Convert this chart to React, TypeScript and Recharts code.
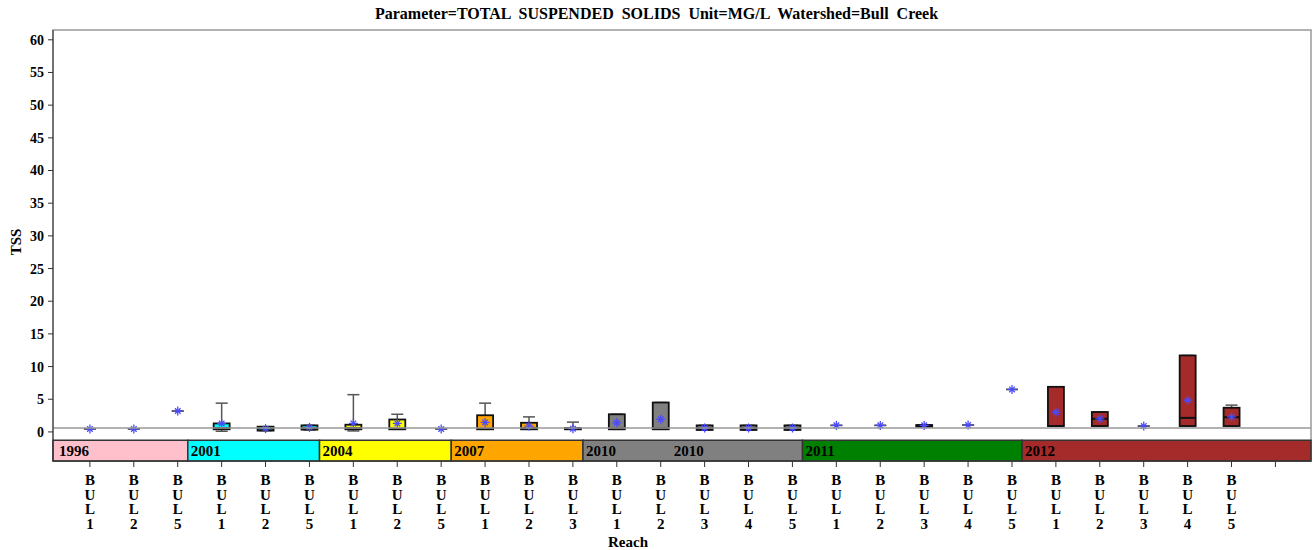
import React from 'react';
import { ComposedChart, Bar, XAxis, YAxis, ReferenceArea, ReferenceLine } from 'recharts';

// reach per box, in plotting order
const reaches = [
  'BUL1', 'BUL2', 'BUL5',
  'BUL1', 'BUL2', 'BUL5',
  'BUL1', 'BUL2', 'BUL5',
  'BUL1', 'BUL2', 'BUL3',
  'BUL1', 'BUL2', 'BUL3', 'BUL4', 'BUL5',
  'BUL1', 'BUL2', 'BUL3', 'BUL4', 'BUL5',
  'BUL1', 'BUL2', 'BUL3', 'BUL4', 'BUL5',
];
const years = [
  '1996', '1996', '1996',
  '2001', '2001', '2001',
  '2004', '2004', '2004',
  '2007', '2007', '2007',
  '2010', '2010', '2010', '2010', '2010',
  '2011', '2011', '2011', '2011', '2011',
  '2012', '2012', '2012', '2012', '2012',
];

// box statistics (mg/L)
const mins = [0.45, 0.45, 3.2, 0.1, 0.2, 0.3, 0.15, 0.4, 0.45, 0.4, 0.4, 0.4, 0.4, 0.4, 0.3, 0.3, 0.3, 1.0, 1.0, 0.8, 1.05, 6.5, 0.9, 0.9, 0.9, 0.9, 0.9];
const q1s = [0.45, 0.45, 3.2, 0.4, 0.2, 0.35, 0.4, 0.4, 0.45, 0.4, 0.4, 0.4, 0.4, 0.4, 0.3, 0.3, 0.3, 1.0, 1.0, 0.8, 1.05, 6.5, 0.9, 0.9, 0.9, 0.9, 0.9];
const medians = [0.45, 0.45, 3.2, 0.6, 0.5, 0.6, 0.6, 0.5, 0.45, 0.5, 0.6, 0.5, 0.6, 0.6, 0.6, 0.6, 0.6, 1.0, 1.0, 1.0, 1.05, 6.5, 0.9, 2.0, 0.9, 2.15, 2.25];
const q3s = [0.45, 0.45, 3.2, 1.3, 0.8, 1.0, 1.1, 1.9, 0.45, 2.55, 1.4, 0.6, 2.7, 4.5, 1.0, 1.0, 1.0, 1.0, 1.0, 1.05, 1.05, 6.5, 6.9, 3.05, 0.9, 11.7, 3.7];
const maxs = [0.45, 0.45, 3.2, 4.4, 0.8, 1.0, 5.7, 2.7, 0.45, 4.4, 2.3, 1.5, 2.7, 4.5, 1.0, 1.0, 1.0, 1.0, 1.0, 1.05, 1.05, 6.5, 6.9, 3.05, 0.9, 11.7, 4.1];
const means = [0.45, 0.45, 3.2, 1.3, 0.5, 0.7, 1.3, 1.3, 0.45, 1.45, 0.9, 0.5, 1.4, 1.95, 0.6, 0.6, 0.6, 1.0, 1.0, 1.0, 1.05, 6.5, 3.0, 2.0, 0.9, 4.85, 2.3];

// year blocks under the boxes
const blockYears = ['1996', '2001', '2004', '2007', '2010', '2011', '2012'];
const blockStarts = [0, 3, 6, 9, 12, 17, 22];
const blockColors = ['#ffc0cb', '#00ffff', '#ffff00', '#ffa500', '#808080', '#008000', '#a52a2a'];
const blockLabels = ['1996', '2001', '2004', '2007', '2010', '2010', '2011', '2012'];
const blockLabelStarts = [0, 3, 6, 9, 12, 14, 17, 22];

const yTicks = [0, 5, 10, 15, 20, 25, 30, 35, 40, 45, 50, 55, 60];
const refValue = 0.6;

const X_MIN = -0.84;
const X_MAX = 27.81;
const Y_MIN = -4.45;
const Y_MAX = 61.5;
const BAND_TOP = -1.27;
const EDGE = 0.77;

const xTicks = Array.from({ length: reaches.length + 1 }, (_, i) => i);

const data = reaches.map((r, i) => ({
  idx: i,
  reach: r,
  year: years[i],
  min: mins[i],
  q1: q1s[i],
  median: medians[i],
  q3: q3s[i],
  max: maxs[i],
  mean: means[i],
}));

const FONT = '"Liberation Serif", "DejaVu Serif", serif';

const BoxShape = (props: any) => {
  const { x, y, width, height, payload } = props;
  if (payload == null || height == null) return null;
  const k = height / (payload.max - Y_MIN);
  const py = (v: number) => y + (payload.max - v) * k;
  const cx = x + width / 2;
  const half = 8;
  const cap = 6;
  const fill = blockColors[blockYears.indexOf(payload.year)];
  const m = py(payload.mean);
  const hasBox = payload.q3 > payload.q1;
  return (
    <g>
      <line x1={cx} x2={cx} y1={py(payload.max)} y2={py(payload.q3)} stroke="#555" strokeWidth={1.5} />
      <line x1={cx} x2={cx} y1={py(payload.q1)} y2={py(payload.min)} stroke="#555" strokeWidth={1.5} />
      <line x1={cx - cap} x2={cx + cap} y1={py(payload.max)} y2={py(payload.max)} stroke="#555" strokeWidth={1.5} />
      <line x1={cx - cap} x2={cx + cap} y1={py(payload.min)} y2={py(payload.min)} stroke="#555" strokeWidth={1.5} />
      {hasBox && (
        <rect
          x={cx - half}
          y={py(payload.q3)}
          width={half * 2}
          height={py(payload.q1) - py(payload.q3)}
          fill={fill}
          stroke="#111"
          strokeWidth={1.8}
        />
      )}
      {hasBox && (
        <line x1={cx - half} x2={cx + half} y1={py(payload.median)} y2={py(payload.median)} stroke="#111" strokeWidth={2} />
      )}
      <g stroke="#4a4aff" strokeWidth={1.3}>
        <line x1={cx} x2={cx} y1={m - 4.5} y2={m + 4.5} />
        <line x1={cx - 4.5} x2={cx + 4.5} y1={m} y2={m} />
        <line x1={cx - 2.8} x2={cx + 2.8} y1={m - 2.8} y2={m + 2.8} />
        <line x1={cx - 2.8} x2={cx + 2.8} y1={m + 2.8} y2={m - 2.8} />
      </g>
    </g>
  );
};

const ReachTick = (props: any) => {
  const { x, y, payload } = props;
  const label = reaches[payload.value] || '';
  return (
    <text x={x} y={y + 16} textAnchor="middle" fontFamily={FONT} fontWeight="bold" fontSize={15} fill="#000">
      {label.split('').map((ch, i) => (
        <tspan key={i} x={x} dy={i === 0 ? 0 : 14.5}>{ch}</tspan>
      ))}
    </text>
  );
};

export default function App() {
  return (
    <div style={{ position: 'relative', width: 1313, height: 550, background: '#fff' }}>
      <style>{'body{margin:0}'}</style>
      <div
        style={{
          position: 'absolute', left: 0, width: 1313, top: 6, textAlign: 'center',
          fontFamily: FONT, fontWeight: 'bold', fontSize: 16, wordSpacing: 4, color: '#000',
          lineHeight: '16px',
        }}
      >
        Parameter=TOTAL SUSPENDED SOLIDS Unit=MG/L Watershed=Bull Creek
      </div>
      <div
        style={{
          position: 'absolute', left: 16, top: 242, transform: 'translate(-50%, -50%) rotate(-90deg)',
          fontFamily: FONT, fontWeight: 'bold', fontSize: 15, color: '#000',
        }}
      >
        TSS
      </div>
      <div
        style={{
          position: 'absolute', left: 628, top: 542, transform: 'translate(-50%, -50%)',
          fontFamily: FONT, fontWeight: 'bold', fontSize: 15, color: '#000',
        }}
      >
        Reach
      </div>
      <ComposedChart width={1313} height={550} data={data} margin={{ top: 30, right: 2, left: 0, bottom: 0 }}>
        <XAxis
          dataKey="idx"
          type="number"
          domain={[X_MIN, X_MAX]}
          ticks={xTicks}
          interval={0}
          allowDataOverflow
          height={89}
          tickSize={6}
          tickMargin={2}
          axisLine={{ stroke: '#333' }}
          tickLine={{ stroke: '#333' }}
          tick={<ReachTick />}
        />
        <YAxis
          type="number"
          domain={[Y_MIN, Y_MAX]}
          ticks={yTicks}
          interval={0}
          allowDataOverflow
          width={53}
          tickSize={5}
          tickMargin={4}
          axisLine={{ stroke: '#333' }}
          tickLine={{ stroke: '#333' }}
          tick={{ fill: '#000', fontSize: 14, fontWeight: 'bold', fontFamily: FONT }}
        />
        <ReferenceArea x1={X_MIN} x2={X_MAX} y1={Y_MIN} y2={Y_MAX} fill="none" stroke="#999" strokeWidth={1.5} />
        {blockYears.map((yr, i) => (
          <ReferenceArea
            key={'b' + i}
            x1={i === 0 ? X_MIN : blockStarts[i] - EDGE}
            x2={i === blockYears.length - 1 ? X_MAX : blockStarts[i + 1] - EDGE}
            y1={Y_MIN}
            y2={BAND_TOP}
            fill={blockColors[i]}
            fillOpacity={1}
            stroke="#333"
            strokeWidth={1.5}
          />
        ))}
        {blockLabels.map((lb, i) => (
          <ReferenceArea
            key={'l' + i}
            x1={blockLabelStarts[i] - EDGE}
            x2={blockLabelStarts[i] + 0.5}
            y1={Y_MIN}
            y2={BAND_TOP}
            fill="none"
            stroke="none"
            label={{ value: lb, position: 'insideLeft', offset: 3, fill: '#000', fontSize: 15, fontWeight: 'bold', fontFamily: FONT }}
          />
        ))}
        <ReferenceLine y={refValue} stroke="#999" strokeWidth={1.5} />
        <Bar
          dataKey={(d: any) => [Y_MIN, d.max]}
          barSize={16}
          shape={<BoxShape />}
          isAnimationActive={false}
        />
      </ComposedChart>
    </div>
  );
}
